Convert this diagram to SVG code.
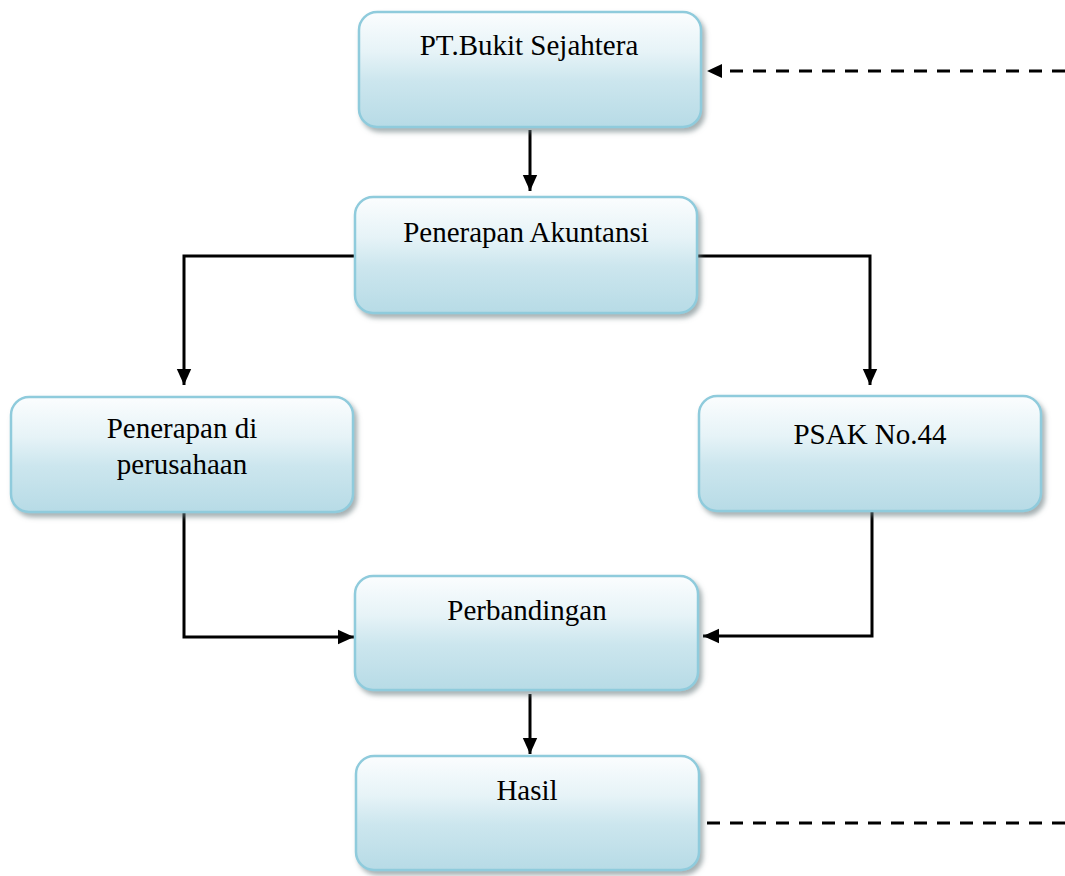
<svg xmlns="http://www.w3.org/2000/svg" width="1065" height="876" viewBox="0 0 1065 876">
<defs>
<linearGradient id="fill" x1="0" y1="0" x2="0" y2="1">
<stop offset="0" stop-color="#fbfdfe"/>
<stop offset="0.35" stop-color="#e6f3f7"/>
<stop offset="0.6" stop-color="#cce6ee"/>
<stop offset="1" stop-color="#b7dbe6"/>
</linearGradient>
<filter id="shadow" x="-5%" y="-5%" width="115%" height="120%">
<feDropShadow dx="3" dy="4" stdDeviation="2.5" flood-color="#6b7b80" flood-opacity="0.6"/>
</filter>
<marker id="arrow" viewBox="0 0 10 10" refX="10" refY="5" markerWidth="16" markerHeight="16" markerUnits="userSpaceOnUse" orient="auto">
<path d="M0,0.5 L10,5 L0,9.5 z" fill="#000"/>
</marker>
</defs>
<style>
.box{fill:url(#fill);stroke:#8fcbdc;stroke-width:2.5;filter:url(#shadow)}
.lbl{font-family:"Liberation Serif","Times New Roman",serif;font-size:29px;fill:#000;text-anchor:middle}
.con{fill:none;stroke:#000;stroke-width:3}
.dash{fill:none;stroke:#000;stroke-width:3;stroke-dasharray:13 10}
</style>
<g id="connectors">
<path class="con" d="M530,130 V191" marker-end="url(#arrow)"/>
<path class="con" d="M355,256 H184 V385" marker-end="url(#arrow)"/>
<path class="con" d="M697,256 H870 V385" marker-end="url(#arrow)"/>
<path class="con" d="M184,510 V637 H354" marker-end="url(#arrow)"/>
<path class="con" d="M872,508 V636 H703" marker-end="url(#arrow)"/>
<path class="con" d="M530,694 V754" marker-end="url(#arrow)"/>
<path class="dash" d="M1065,71 H720"/>
<path d="M707,71 L722,64 L722,78 z" fill="#000"/>
<path class="dash" d="M707,823 H1065"/>
</g>
<g id="node-pt">
<rect class="box" x="359" y="12" width="342" height="115" rx="18"/>
<text class="lbl" x="529" y="55">PT.Bukit Sejahtera</text>
</g>
<g id="node-akuntansi">
<rect class="box" x="355" y="197" width="342" height="116" rx="18"/>
<text class="lbl" x="526" y="242">Penerapan Akuntansi</text>
</g>
<g id="node-perusahaan">
<rect class="box" x="11" y="397" width="342" height="115" rx="18"/>
<text class="lbl" x="182" y="438">Penerapan di</text>
<text class="lbl" x="182" y="474">perusahaan</text>
</g>
<g id="node-psak">
<rect class="box" x="699" y="396" width="342" height="115" rx="18"/>
<text class="lbl" x="870" y="444">PSAK No.44</text>
</g>
<g id="node-perbandingan">
<rect class="box" x="355" y="576" width="343" height="114" rx="18"/>
<text class="lbl" x="527" y="620">Perbandingan</text>
</g>
<g id="node-hasil">
<rect class="box" x="356" y="756" width="343" height="114" rx="18"/>
<text class="lbl" x="527" y="800">Hasil</text>
</g>
</svg>
